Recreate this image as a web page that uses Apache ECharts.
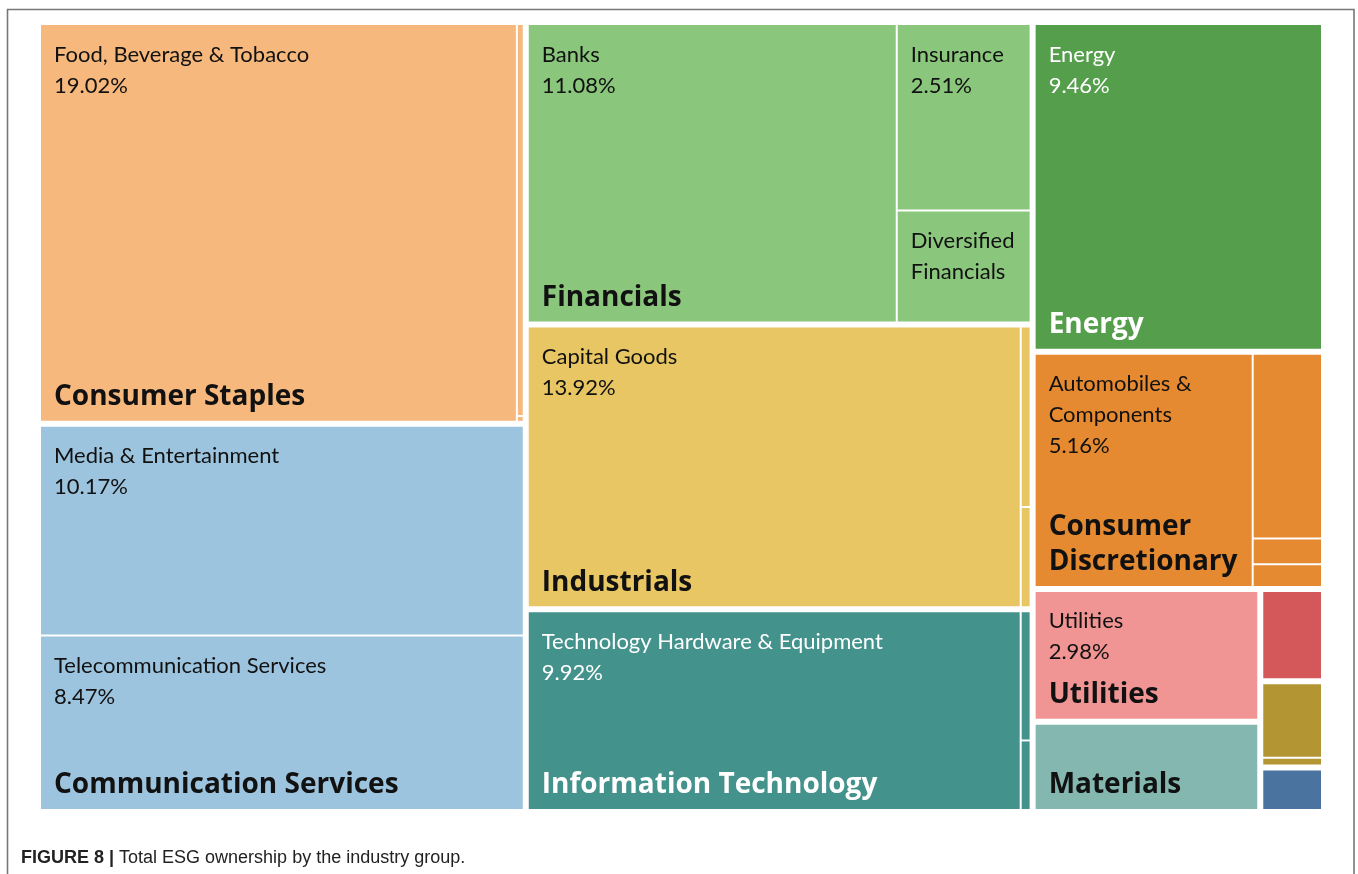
<!DOCTYPE html>
<html>
<head>
<meta charset="utf-8">
<script src="https://cdn.jsdelivr.net/npm/echarts@6/dist/echarts.min.js"></script>
<style>
html, body { margin: 0; padding: 0; background: #ffffff; }
#main { width: 1358px; height: 874px; }
</style>
</head>
<body>
<div id="main"></div>
<script>
// ---------- DATA ----------
const sectors = [
  'Consumer Staples', 'Communication Services', 'Financials', 'Industrials',
  'Information Technology', 'Energy', 'Consumer Discretionary', 'Utilities',
  'Materials', 'Real Estate', 'Health Care', 'Other'
];
// bold sector captions (line breaks as in the figure); '' = no caption
const sectorCaptions = [
  'Consumer Staples', 'Communication Services', 'Financials', 'Industrials',
  'Information Technology', 'Energy', 'Consumer\nDiscretionary', 'Utilities',
  'Materials', '', '', ''
];
// index of the industry group whose cell carries the sector caption (-1 = none)
const captionHost = [0, 1, 0, 0, 0, 0, 0, 0, 0, -1, -1, -1];

const groupNames = [
  ['Food, Beverage & Tobacco', 'Household & Personal Products', 'Food & Staples Retailing'],
  ['Media & Entertainment', 'Telecommunication Services'],
  ['Banks', 'Insurance', 'Diversified Financials'],
  ['Capital Goods', 'Transportation', 'Commercial & Professional Services'],
  ['Technology Hardware & Equipment', 'Software & Services', 'Semiconductors & Semiconductor Equipment'],
  ['Energy'],
  ['Automobiles & Components', 'Consumer Durables & Apparel', 'Retailing', 'Consumer Services'],
  ['Utilities'],
  ['Materials'],
  ['Real Estate'],
  ['Pharmaceuticals, Biotechnology & Life Sciences', 'Health Care Equipment & Services'],
  ['Other']
];
// share of total ESG ownership, %
const groupValues = [
  [19.02, 0.27, 0.004],
  [10.17, 8.47],
  [11.08, 2.51, 1.51],
  [13.92, 0.18, 0.10],
  [9.92, 0.13, 0.07],
  [9.46],
  [5.16, 1.30, 0.18, 0.16],
  [2.98],
  [2.02],
  [0.58],
  [0.49, 0.05],
  [0.28]
];
// text shown in a cell (null = no label)
const groupLabels = [
  ['Food, Beverage & Tobacco', null, null],
  ['Media & Entertainment', 'Telecommunication Services'],
  ['Banks', 'Insurance', 'Diversified\nFinancials'],
  ['Capital Goods', null, null],
  ['Technology Hardware & Equipment', null, null],
  ['Energy'],
  ['Automobiles &\nComponents', null, null, null],
  ['Utilities'],
  [null],
  [null],
  [null, null],
  [null]
];
// whether the percentage is printed under the name
const groupShowPct = [
  [true, false, false],
  [true, true],
  [true, true, false],
  [true, false, false],
  [true, false, false],
  [true],
  [true, false, false, false],
  [true],
  [false],
  [false],
  [false, false],
  [false]
];

// ---------- STYLE ----------
const sectorColors = [
  '#F6B87D', '#9DC4DE', '#8AC67B', '#E7C663', '#44928C', '#559E4B',
  '#E68A31', '#F09594', '#83B7B0', '#D45759', '#B39533', '#4B739F'
];
const sectorTextColors = [
  '#111', '#111', '#111', '#111', '#fff', '#fff',
  '#111', '#111', '#111', '#111', '#111', '#111'
];
const FONT = 'Lato';
const BOLD_FONT = 'Open Sans';
const PAD_TOP = 14, PAD_LEFT = 13, PAD_BOTTOM = 3;
const NAME_FS = 22, NAME_LH = 31;
const SEC_FS = 28, SEC_LH = 35;
const BOTTOM_GAP = 6;

function buildData(heights) {
  return sectors.map((s, si) => ({
    name: s,
    id: 's' + si,
    itemStyle: { color: sectorColors[si] },
    children: groupNames[si].map((g, gi) => {
      const id = 'g' + si + '_' + gi;
      const node = { name: g, id: id, value: groupValues[si][gi], itemStyle: { color: sectorColors[si] } };
      const sub = groupLabels[si][gi];
      const hasCaption = captionHost[si] === gi;
      if (!sub && !hasCaption) {
        node.label = { show: false };
        return node;
      }
      const tc = sectorTextColors[si];
      const parts = [];
      let used = PAD_TOP;
      if (sub) {
        sub.split('\n').forEach(l => { parts.push('{n|' + l + '}'); used += NAME_LH; });
        if (groupShowPct[si][gi]) {
          parts.push('{n|' + groupValues[si][gi].toFixed(2) + '%}');
          used += NAME_LH;
        }
      }
      const rich = {
        n: { fontFamily: FONT, fontSize: NAME_FS, lineHeight: NAME_LH, color: tc }
      };
      if (hasCaption) {
        const lines = sectorCaptions[si].split('\n');
        const h = heights && heights[id] ? heights[id] : 0;
        const sp = Math.max(1, h - used - lines.length * SEC_LH - BOTTOM_GAP);
        parts.push('{sp|}');
        lines.forEach(l => parts.push('{s|' + l + '}'));
        rich.sp = { height: sp, lineHeight: sp, fontSize: 1 };
        rich.s = { fontFamily: BOLD_FONT, fontSize: SEC_FS, fontWeight: 'bold', lineHeight: SEC_LH, color: tc };
      }
      node.label = { show: true, formatter: parts.join('\n'), rich: rich };
      return node;
    })
  }));
}

function buildOption(heights) {
  return {
    animation: false,
    backgroundColor: '#ffffff',
    title: {
      text: '{b|FIGURE 8 |} Total ESG ownership by the industry group.',
      left: 21,
      top: 848,
      padding: 0,
      textStyle: {
        fontFamily: 'Liberation Sans',
        fontSize: 18,
        fontWeight: 'normal',
        color: '#222',
        lineHeight: 20,
        rich: {
          b: { fontFamily: 'Liberation Sans', fontSize: 18, fontWeight: 'bold', color: '#222', lineHeight: 20 }
        }
      }
    },
    graphic: [{
      type: 'rect',
      silent: true,
      z: -1,
      shape: { x: 7.5, y: 9.5, width: 1346.5, height: 900 },
      style: { fill: 'transparent', stroke: '#777', lineWidth: 1.6 }
    }],
    series: [{
      type: 'treemap',
      left: 41,
      top: 25,
      width: 1280,
      height: 784,
      roam: false,
      nodeClick: false,
      breadcrumb: { show: false },
      visibleMin: 0,
      silent: true,
      label: {
        show: true,
        position: 'insideTopLeft',
        distance: 0,
        overflow: 'none',
        padding: [PAD_TOP, 2, PAD_BOTTOM, PAD_LEFT],
        fontFamily: FONT,
        color: '#111'
      },
      upperLabel: { show: false },
      levels: [
        { itemStyle: { borderWidth: 0, gapWidth: 6, borderColor: '#ffffff' } },
        { itemStyle: { borderWidth: 0, gapWidth: 2, borderColor: '#ffffff' } },
        { itemStyle: { borderWidth: 0, gapWidth: 0 } }
      ],
      data: buildData(heights)
    }]
  };
}

const chart = echarts.init(document.getElementById('main'), null, { renderer: 'canvas' });
chart.setOption(buildOption(null));

// read the cell sizes from the library's own treemap layout, then place sector captions
const listData = chart.getModel().getSeriesByIndex(0).getData();
const heights = {};
for (let i = 0; i < listData.count(); i++) {
  const lay = listData.getItemLayout(i);
  const id = listData.getId(i);
  if (lay && id) heights[id] = lay.height;
}
chart.setOption(buildOption(heights));
</script>
</body>
</html>
